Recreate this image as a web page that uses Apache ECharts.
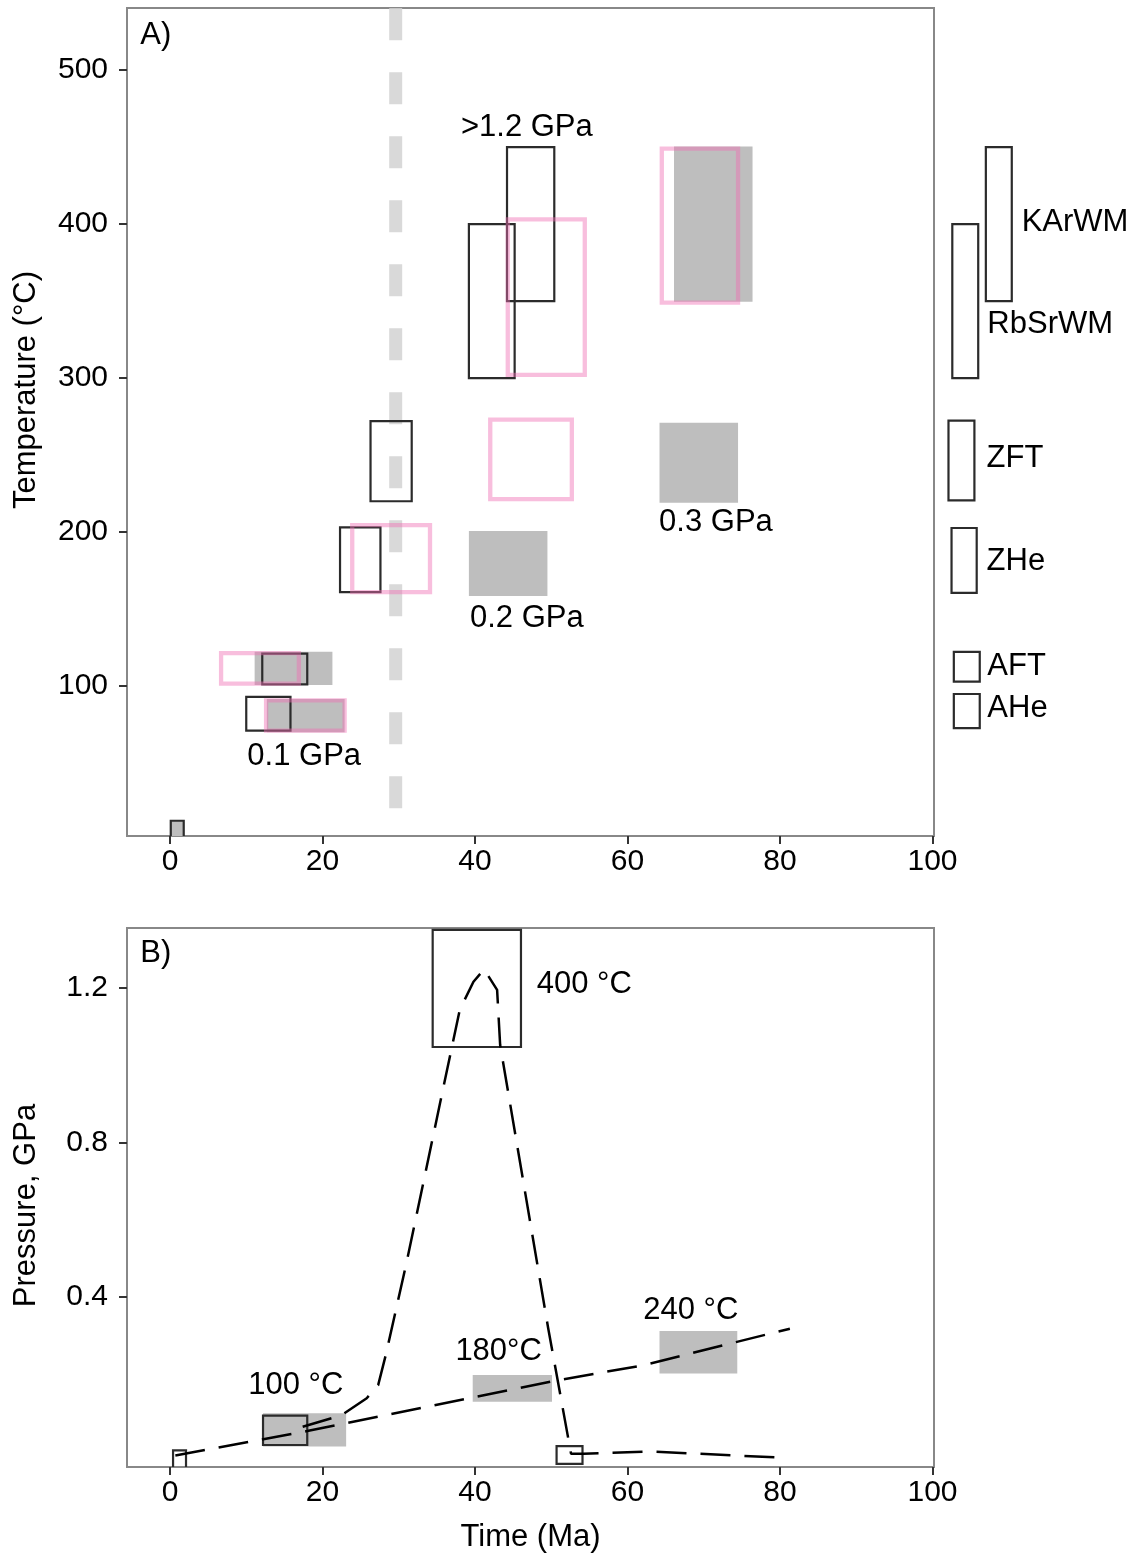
<!DOCTYPE html>
<html><head><meta charset="utf-8">
<script src="https://cdn.jsdelivr.net/npm/echarts@6/dist/echarts.min.js"></script>
<style>html,body{margin:0;padding:0;background:#fff}#c{width:1142px;height:1557px}</style>
</head><body><div id="c"></div>
<script>
// ---------- tick labels ----------
const timeTicks = [0, 20, 40, 60, 80, 100];
const tempTicks = [100, 200, 300, 400, 500];
const pressTicks = [0.4, 0.8, 1.2];

// ---------- Panel A: temperature vs time, boxes as [t0, t1, T0, T1] ----------
const grayBoxesA = [[11.1,21.3,100.6,122.2],[12.7,22.9,70,91.6],[39.2,49.5,158.5,200.6],[64.2,74.5,219,271],[66.1,76.4,349.6,450.4]];
const originBoxA = [[0.1,1.8,0,12.5]];
const blackBoxesA = [[10,15.8,71,93],[12.1,18,101,121],[22.3,27.6,161,203],[26.3,31.7,220,272],[39.2,45.2,300,400],[44.2,50.4,350,450]];
const pinkBoxesA = [[6.7,16.9,101.5,121.4],[12.6,22.9,71,90.7],[23.9,34.1,161,204.5],[42,52.7,221.4,273],[44.3,54.4,302,403],[64.5,74.5,349,449]];
const keyBoxes = [[107,110.4,350,450],[102.6,106,300,400],[102.1,105.5,220.5,272.4],[102.5,105.8,160.5,202.6],[102.8,106.2,102.8,122.2],[102.8,106.2,72.6,94.8]];
const keyLabels = [['KArWM',111.7,400.9],['RbSrWM',107.2,335],['ZFT',107.1,247.5],['ZHe',107.1,181.2],['AFT',107.2,112.5],['AHe',107.2,85.5]];
const pressureLabelsA = [['>1.2 GPa',46.8,463],['0.3 GPa',71.6,206.5],['0.2 GPa',46.8,144],['0.1 GPa',17.6,54.5]];
const panelLabelA = [['A)',-3.9,522.7]];
const dividerLine = [[29.6,20.7],[29.6,560]];

// ---------- Panel B: pressure vs time ----------
const grayBoxesB = [[12.2,23.1,0.013,0.099],[39.7,50.1,0.129,0.198],[64.2,74.4,0.202,0.312]];
const blackBoxesB = [[12.2,18,0.017,0.093],[34.45,46.03,1.047,1.35],[0.4,2.1,-0.06,0.003],[50.7,54.1,-0.032,0.014]];
const tempLabelsB = [['100 °C',16.5,0.17,'center'],['180°C',43.1,0.258,'center'],['240 °C',68.3,0.366,'center'],['400 °C',48.1,1.21,'left']];
const panelLabelB = [['B)',-3.9,1.29]];
const pathLow = [[0.7,-0.01],[18,0.053],[51,0.185],[62,0.223],[81.3,0.318]];
const pathHigh = [[17.4,0.064],[22.5,0.094],[25.8,0.138],[27.3,0.172],[28.3,0.25],[31,0.487],[35.4,0.9],[38,1.143],[39.8,1.216],[41.2,1.248],[42.9,1.195],[43.3,1.052],[49.6,0.319],[52.6,-0.006],[54.2,-0.006],[63,0.0],[79.5,-0.015]];

const FONT = '"Liberation Sans", Arial, Helvetica, sans-serif';

function rectSeries(data, gi, style, clip, z) {
  return {
    type: 'custom', xAxisIndex: gi, yAxisIndex: gi, clip: clip, z: z, silent: true,
    data: data,
    renderItem: function (params, api) {
      const p0 = api.coord([api.value(0), api.value(3)]);
      const p1 = api.coord([api.value(1), api.value(2)]);
      return { type: 'rect', shape: { x: p0[0], y: p0[1], width: p1[0] - p0[0], height: p1[1] - p0[1] }, style: style };
    }
  };
}
function textSeries(list, gi, align, size, z) {
  return {
    type: 'custom', xAxisIndex: gi, yAxisIndex: gi, clip: false, z: z, silent: true,
    data: list.map(d => [d[1], d[2]]),
    renderItem: function (params, api) {
      const d = list[params.dataIndex];
      const p = api.coord([api.value(0), api.value(1)]);
      return { type: 'text', x: p[0], y: p[1], style: { text: d[0], fill: '#000', font: size + 'px ' + FONT, align: d[3] || align, verticalAlign: 'middle' } };
    }
  };
}

const grayFill = { fill: '#BEBEBE', stroke: null };
const blackStroke = { fill: null, stroke: '#2b2b2b', lineWidth: 2.2 };
const pinkStroke = { fill: null, stroke: 'rgba(240,110,180,0.45)', lineWidth: 4.3 };
const originStyle = { fill: '#BEBEBE', stroke: '#2b2b2b', lineWidth: 2.2 };

function xAxisCfg(gi, withName) {
  return {
    gridIndex: gi, type: 'value', min: -5.64, max: 100.2,
    axisLine: { show: false, onZero: false }, splitLine: { show: false },
    axisTick: { show: true, length: 8, customValues: timeTicks, lineStyle: { color: '#333', width: 2 } },
    axisLabel: { customValues: timeTicks, fontSize: 30, color: '#000', margin: 11, fontFamily: FONT },
    name: withName ? 'Time (Ma)' : '', nameLocation: 'middle', nameGap: 55,
    nameTextStyle: { fontSize: 31, color: '#000', fontFamily: FONT }
  };
}

const option = {
  animation: false,
  backgroundColor: '#fff',
  grid: [
    { left: 127, top: 8, width: 807, height: 828, show: true, borderColor: '#888', borderWidth: 2, containLabel: false },
    { left: 127, top: 928, width: 807, height: 539, show: true, borderColor: '#888', borderWidth: 2, containLabel: false }
  ],
  xAxis: [xAxisCfg(0, false), xAxisCfg(1, true)],
  yAxis: [
    {
      gridIndex: 0, type: 'value', min: 2.6, max: 540.3,
      axisLine: { show: false, onZero: false }, splitLine: { show: false },
      axisTick: { show: true, length: 8, customValues: tempTicks, lineStyle: { color: '#333', width: 2 } },
      axisLabel: { customValues: tempTicks, fontSize: 30, color: '#000', margin: 19, fontFamily: FONT },
      name: 'Temperature (°C)', nameLocation: 'middle', nameGap: 85, nameRotate: 90,
      nameTextStyle: { fontSize: 31, color: '#000', fontFamily: FONT, padding: [0, 0, 0, 64] }
    },
    {
      gridIndex: 1, type: 'value', min: -0.04, max: 1.355,
      axisLine: { show: false, onZero: false }, splitLine: { show: false },
      axisTick: { show: true, length: 8, customValues: pressTicks, lineStyle: { color: '#333', width: 2 } },
      axisLabel: { customValues: pressTicks, fontSize: 30, color: '#000', margin: 19, fontFamily: FONT, formatter: v => v.toFixed(1) },
      name: 'Pressure, GPa', nameLocation: 'middle', nameGap: 85, nameRotate: 90,
      nameTextStyle: { fontSize: 31, color: '#000', fontFamily: FONT, padding: [0, 16, 0, 0] }
    }
  ],
  series: [
    // Panel A
    {
      type: 'line', xAxisIndex: 0, yAxisIndex: 0, data: dividerLine, showSymbol: false, symbol: 'none', clip: true, z: 1, silent: true,
      lineStyle: { color: '#D9D9D9', width: 13, type: [32, 32], cap: 'butt' }
    },
    rectSeries(grayBoxesA, 0, grayFill, true, 2),
    rectSeries(originBoxA, 0, originStyle, true, 3),
    rectSeries(blackBoxesA, 0, blackStroke, true, 3),
    rectSeries(pinkBoxesA, 0, pinkStroke, true, 4),
    rectSeries(keyBoxes, 0, blackStroke, false, 3),
    textSeries(keyLabels, 0, 'left', 31, 5),
    textSeries(pressureLabelsA, 0, 'center', 31, 5),
    textSeries(panelLabelA, 0, 'left', 31, 5),
    // Panel B
    rectSeries(grayBoxesB, 1, grayFill, true, 2),
    rectSeries(blackBoxesB, 1, blackStroke, true, 3),
    {
      type: 'line', xAxisIndex: 1, yAxisIndex: 1, data: pathLow, showSymbol: false, symbol: 'none', clip: true, z: 4, silent: true,
      lineStyle: { color: '#000', width: 2.5, type: [30, 14], cap: 'butt' }
    },
    {
      type: 'line', xAxisIndex: 1, yAxisIndex: 1, data: pathHigh, showSymbol: false, symbol: 'none', clip: true, z: 4, silent: true,
      lineStyle: { color: '#000', width: 2.5, type: [30, 14], cap: 'butt' }
    },
    textSeries(tempLabelsB, 1, 'center', 31, 5),
    textSeries(panelLabelB, 1, 'left', 31, 5)
  ]
};

const chart = echarts.init(document.getElementById('c'), null, { renderer: 'canvas' });
chart.setOption(option);
</script>
</body></html>
